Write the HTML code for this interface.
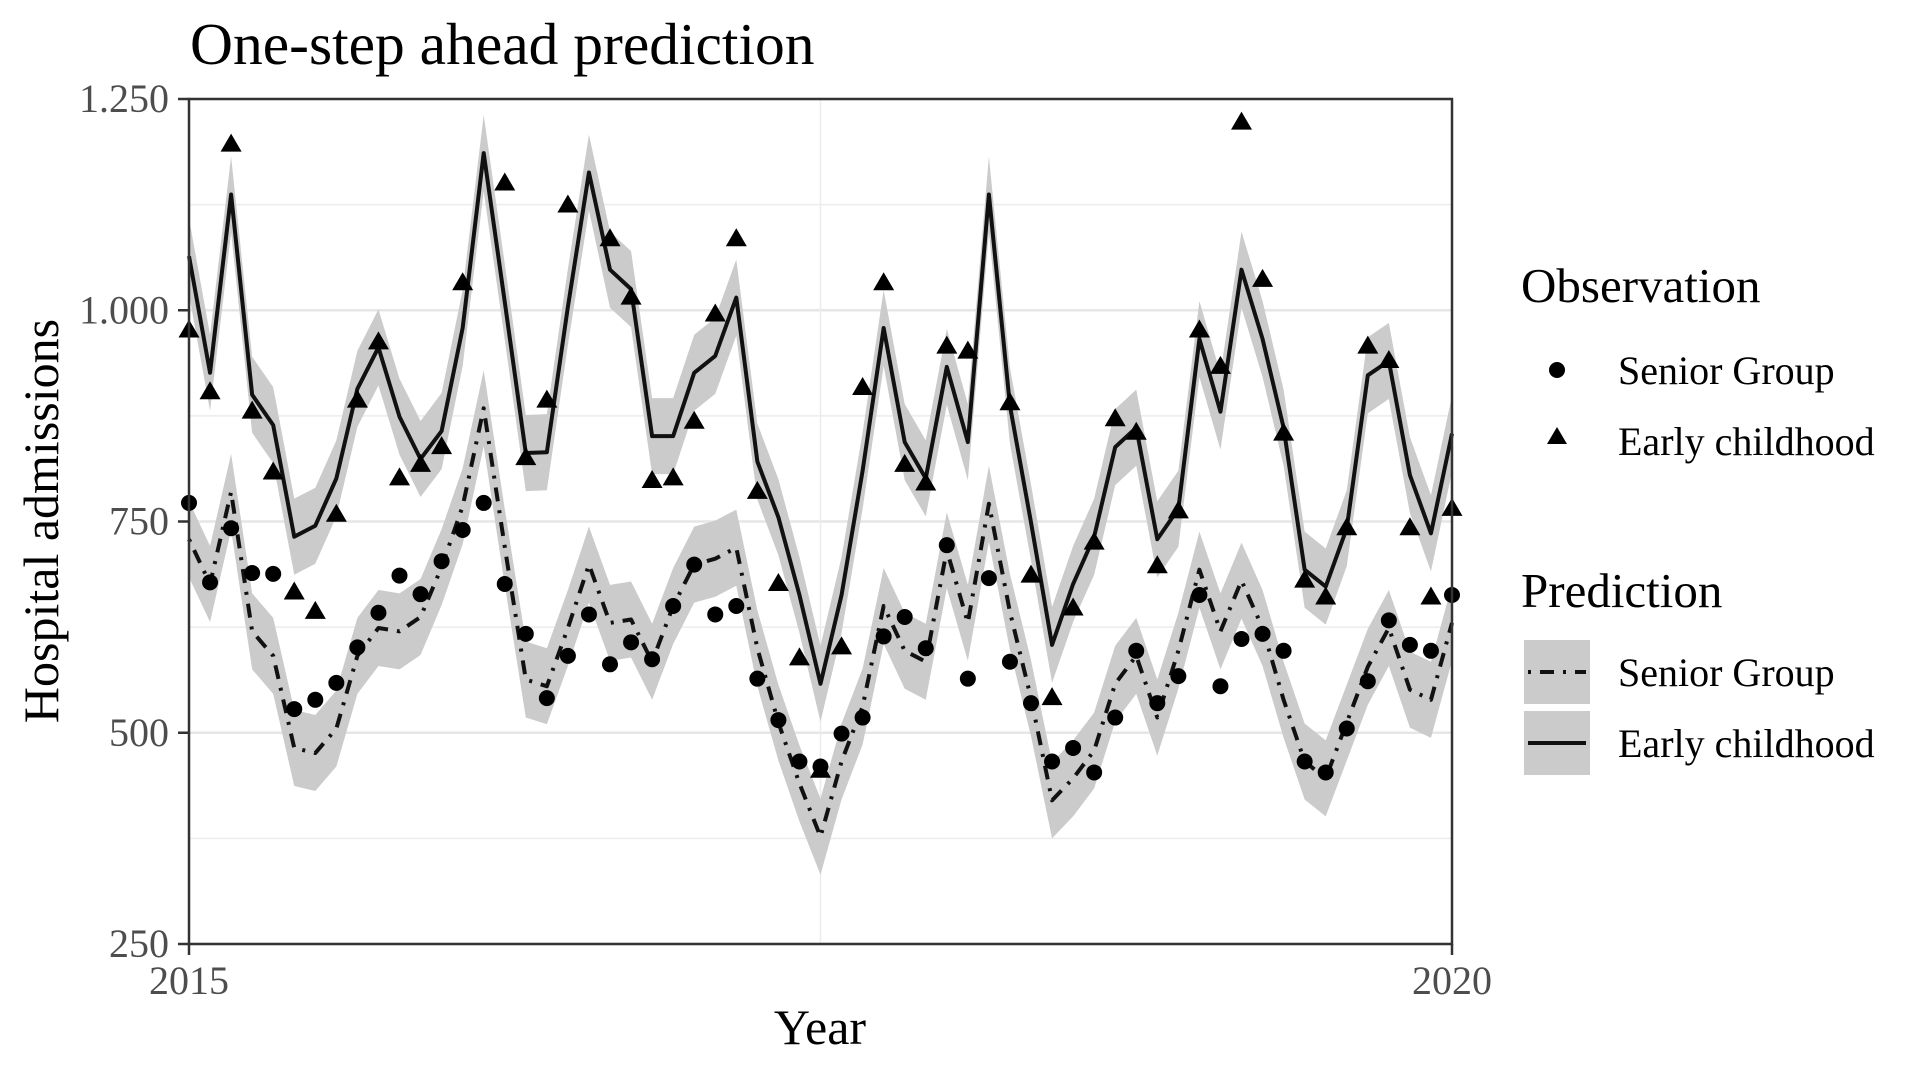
<!DOCTYPE html>
<html>
<head>
<meta charset="utf-8">
<style>
  html,body{margin:0;padding:0;background:#fff;}
  svg{display:block;font-family:"Liberation Serif","Times New Roman",serif;}
</style>
</head>
<body>
<svg id="chart" width="1920" height="1080" viewBox="0 0 1920 1080" xmlns="http://www.w3.org/2000/svg">
  <rect x="0" y="0" width="1920" height="1080" fill="#ffffff"/>
  <text x="190" y="64" font-size="59.5" fill="#000">One-step ahead prediction</text>
  <g id="grid"></g>
  <g id="bands"></g>
  <g id="lines"></g>
  <g id="points"></g>
  <rect x="189" y="99" width="1263" height="845" fill="none" stroke="#333" stroke-width="2.5"/>
  <g id="axes"></g>
  <text x="820" y="1044" font-size="50" text-anchor="middle" fill="#000">Year</text>
  <text transform="translate(58,521) rotate(-90)" font-size="50" text-anchor="middle" fill="#000">Hospital admissions</text>

  <g>
    <text x="1521" y="302" font-size="49" fill="#000">Observation</text>
    <circle cx="1557" cy="370" r="8" fill="#000"/>
    <text x="1618" y="384" font-size="40" fill="#000">Senior Group</text>
    <polygon points="1557,427 1567,444 1547,444" fill="#000"/>
    <text x="1618" y="455" font-size="40" fill="#000">Early childhood</text>
    <text x="1521" y="607" font-size="49" fill="#000">Prediction</text>
    <rect x="1524" y="640" width="66" height="64" fill="#cbcbcb"/>
    <line x1="1528" y1="672" x2="1586" y2="672" stroke="#111" stroke-width="4" stroke-dasharray="3 9 14 9"/>
    <text x="1618" y="686" font-size="40" fill="#000">Senior Group</text>
    <rect x="1524" y="711" width="66" height="64" fill="#cbcbcb"/>
    <line x1="1528" y1="743" x2="1586" y2="743" stroke="#111" stroke-width="4"/>
    <text x="1618" y="757" font-size="40" fill="#000">Early childhood</text>
  </g>
</svg>
<script>
const earlyPred = [1064,926,1137,900,864,732,745,801,907,956,874,824,857,979,1186,1010,831,832,1004,1163,1048,1025,851,851,926,946,1015,821,755,663,558,663,810,979,844,801,933,844,1137,887,749,604,676,732,838,861,729,765,966,880,1048,966,861,693,673,742,923,940,805,736,854];
const earlyObs = [976,903,1196,880,808,666,643,758,893,962,801,817,838,1032,null,1150,825,893,1124,null,1084,1015,798,801,868,995,1084,785,676,588,455,601,908,1032,817,795,957,951,null,890,686,541,647,725,871,855,697,762,976,933,1222,1036,854,680,660,742,957,940,742,660,765];
const seniorPred = [729,676,785,620,591,482,476,505,591,624,620,637,696,768,884,720,563,555,624,699,630,634,584,650,699,706,719,600,512,440,377,466,531,650,597,584,716,630,771,643,541,420,446,479,558,591,518,597,693,620,680,624,539,466,446,512,578,624,551,539,630];
const seniorObs = [772,678,742,689,688,528,539,559,601,642,686,664,703,740,772,676,617,541,591,640,581,607,587,650,699,640,650,564,515,466,460,499,518,614,637,600,722,564,683,584,535,466,482,453,518,597,535,567,663,555,611,617,597,466,453,505,561,633,604,597,663];
const bandHalf = [45, 45];
const yTicks = [250,500,750,1000,1250];
const yTickLabels = ["250","500","750","1.000","1.250"];
const yMinor = [375,625,875,1125];
const xTicks = [0,60];
const xTickLabels = ["2015","2020"];
const xMinor = [30];

const NS = "http://www.w3.org/2000/svg";
const PX0 = 189, PX1 = 1452, PY0 = 99, PY1 = 944;
const xS = m => PX0 + (PX1 - PX0) * m / 60;
const yS = v => PY1 - (PY1 - PY0) * (v - 250) / 1000;
function mk(tag, attrs, parent){
  const e = document.createElementNS(NS, tag);
  for (const k in attrs) e.setAttribute(k, attrs[k]);
  parent.appendChild(e);
  return e;
}
const grid = document.getElementById('grid');
yMinor.forEach(v => {
  const l = mk('line', {x1:PX0, x2:PX1, y1:yS(v), y2:yS(v), stroke:'#ececec', 'stroke-width':1.5}, grid);
  
  
});
yTicks.forEach(v => {
  const l = mk('line', {x1:PX0, x2:PX1, y1:yS(v), y2:yS(v), stroke:'#e6e6e6', 'stroke-width':2.5}, grid);
  
  
});
xMinor.forEach(m => {
  const l = mk('line', {x1:xS(m), x2:xS(m), y1:PY0, y2:PY1, stroke:'#ececec', 'stroke-width':1.5}, grid);
  
  
});

function bandPath(vals, half){
  let top = vals.map((v,i) => xS(i)+','+yS(v+half)).join(' L');
  let bot = vals.map((v,i) => xS(i)+','+yS(v-half)).reverse().join(' L');
  return 'M' + top + ' L' + bot + ' Z';
}
function linePath(vals){
  return 'M' + vals.map((v,i) => xS(i)+','+yS(v)).join(' L');
}
const bands = document.getElementById('bands');
const bs = mk('path', {d:bandPath(seniorPred, bandHalf[0]), fill:'#cbcbcb'}, bands);


const be = mk('path', {d:bandPath(earlyPred, bandHalf[1]), fill:'#cbcbcb'}, bands);



const lines = document.getElementById('lines');
const ls = mk('path', {d:linePath(seniorPred), fill:'none', stroke:'#111', 'stroke-width':4, 'stroke-dasharray':'3 9 14 9', 'stroke-linejoin':'round'}, lines);


const le = mk('path', {d:linePath(earlyPred), fill:'none', stroke:'#111', 'stroke-width':4, 'stroke-linejoin':'round'}, lines);



const pts = document.getElementById('points');
seniorObs.forEach((v,i) => {
  if (v === null) return;
  const c = mk('circle', {cx:xS(i), cy:yS(v), r:8, fill:'#000'}, pts);
  
  
});
earlyObs.forEach((v,i) => {
  if (v === null) return;
  const x = xS(i), y = yS(v);
  const p = mk('polygon', {points:`${x},${y-11} ${x+10.5},${y+7} ${x-10.5},${y+7}`, fill:'#000'}, pts);
  
  
});

const axes = document.getElementById('axes');
yTicks.forEach((v,i) => {
  const t = mk('line', {x1:PX0-11, x2:PX0, y1:yS(v), y2:yS(v), stroke:'#333', 'stroke-width':2.5}, axes);
  
  
  const tx = mk('text', {x:PX0-20, y:yS(v)+13, 'font-size':40, 'text-anchor':'end', fill:'#4d4d4d'}, axes);
  tx.textContent = yTickLabels[i];
  
  
});
xTicks.forEach((m,i) => {
  const t = mk('line', {x1:xS(m), x2:xS(m), y1:PY1, y2:PY1+11, stroke:'#333', 'stroke-width':2.5}, axes);
  
  
  const tx = mk('text', {x:xS(m), y:994, 'font-size':40, 'text-anchor':'middle', fill:'#4d4d4d'}, axes);
  tx.textContent = xTickLabels[i];
  
  
});
</script>
</body>
</html>
